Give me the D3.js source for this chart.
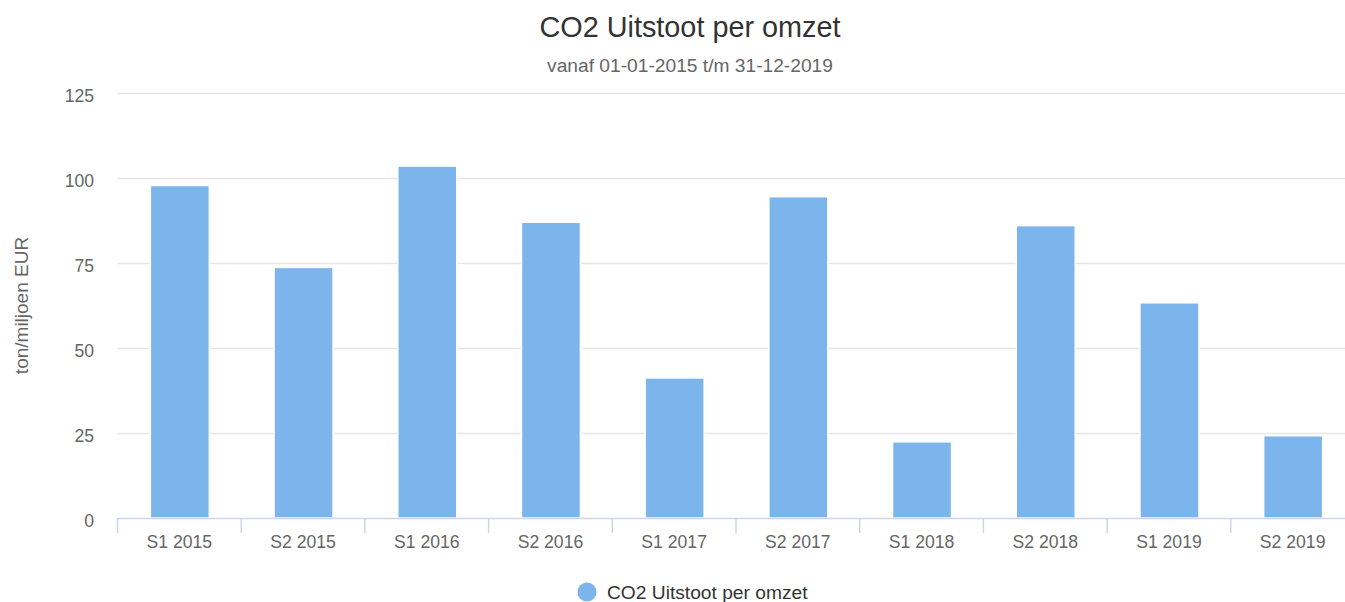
<!DOCTYPE html>
<html>
<head>
<meta charset="utf-8">
<script src="https://cdn.jsdelivr.net/npm/d3@7"></script>
<style>
  body { margin: 0; background: #fff; }
  svg { font-family: "Liberation Sans", Arial, sans-serif; }
</style>
</head>
<body>
<svg id="chart" width="1345" height="602"></svg>
<script>
// CO2 per turnover, half-year buckets
var categories = ["S1 2015", "S2 2015", "S1 2016", "S2 2016", "S1 2017",
                  "S2 2017", "S1 2018", "S2 2018", "S1 2019", "S2 2019"];
var values = [97.8, 73.7, 103.5, 87.0, 41.2, 94.5, 22.4, 86.0, 63.3, 24.2];
var yTicks = [0, 25, 50, 75, 100, 125];
var seriesName = "CO2 Uitstoot per omzet";

var svg = d3.select("#chart");
var plotLeft = 117.5, plotRight = 1354.5, plotTop = 93, plotBottom = 518;
var color = "#7cb5ec";
var font = "Liberation Sans, Arial, sans-serif";

var x = d3.scaleBand().domain(categories).range([plotLeft, plotRight]).padding(0);
var y = d3.scaleLinear().domain([0, 125]).range([plotBottom, plotTop]);

// title + subtitle
svg.append("text").attr("x", 690).attr("y", 37).attr("text-anchor", "middle")
  .attr("font-size", 28.8).attr("fill", "#333333").text("CO2 Uitstoot per omzet");
svg.append("text").attr("x", 690).attr("y", 72).attr("text-anchor", "middle")
  .attr("font-size", 19.2).attr("fill", "#666666").text("vanaf 01-01-2015 t/m 31-12-2019");

// gridlines
svg.append("g").selectAll("line").data(yTicks.filter(function(d) { return d > 0; }))
  .enter().append("line")
    .attr("x1", plotLeft).attr("x2", 1345)
    .attr("y1", function(d) { return Math.round(y(d)) + 0.5; })
    .attr("y2", function(d) { return Math.round(y(d)) + 0.5; })
    .attr("stroke", "#e6e6e6").attr("stroke-width", 1.5);

// y axis labels (sit a little below their gridline)
var yAxis = d3.axisLeft(y).tickValues(yTicks).tickSize(0).tickPadding(0);
var gy = svg.append("g").attr("transform", "translate(94,3)").call(yAxis);
gy.select(".domain").remove();
gy.selectAll("text").attr("font-size", 17.6).attr("fill", "#666666")
  .attr("font-family", font).attr("dy", "0.32em");

svg.append("text")
  .attr("transform", "translate(28," + ((plotTop + plotBottom) / 2) + ") rotate(-90)")
  .attr("text-anchor", "middle").attr("font-size", 19).attr("fill", "#666666")
  .text("ton/miljoen EUR");

// bars
var barW = 59;
svg.append("g").selectAll("rect").data(values).enter().append("rect")
  .attr("x", function(d, i) { return x(categories[i]) + x.bandwidth() / 2 - barW / 2 + 0.5; })
  .attr("y", function(d) { return y(d); })
  .attr("width", barW)
  .attr("height", function(d) { return plotBottom - y(d); })
  .attr("fill", color).attr("stroke", "#ffffff").attr("stroke-width", 1.5);

// x axis
var xAxis = d3.axisBottom(x).tickSize(0).tickPadding(0);
var gx = svg.append("g").attr("transform", "translate(0," + plotBottom + ")").call(xAxis);
gx.select(".domain").remove();
gx.selectAll("text").attr("font-size", 17.6).attr("fill", "#666666")
  .attr("font-family", font).attr("y", 30).attr("dy", 0);

svg.append("line").attr("x1", plotLeft).attr("x2", 1345).attr("y1", plotBottom + 0.5).attr("y2", plotBottom + 0.5)
  .attr("stroke", "#ccd6eb").attr("stroke-width", 1.5);
svg.append("g").selectAll("line").data(categories).enter().append("line")
  .attr("x1", function(d) { return x(d); }).attr("x2", function(d) { return x(d); })
  .attr("y1", plotBottom).attr("y2", plotBottom + 15)
  .attr("stroke", "#ccd6eb").attr("stroke-width", 1.5);

// legend
svg.append("circle").attr("cx", 587).attr("cy", 592).attr("r", 9.5).attr("fill", color);
svg.append("text").attr("x", 607).attr("y", 599).attr("font-size", 19.2).attr("fill", "#333333")
  .text(seriesName);
</script>
</body>
</html>
